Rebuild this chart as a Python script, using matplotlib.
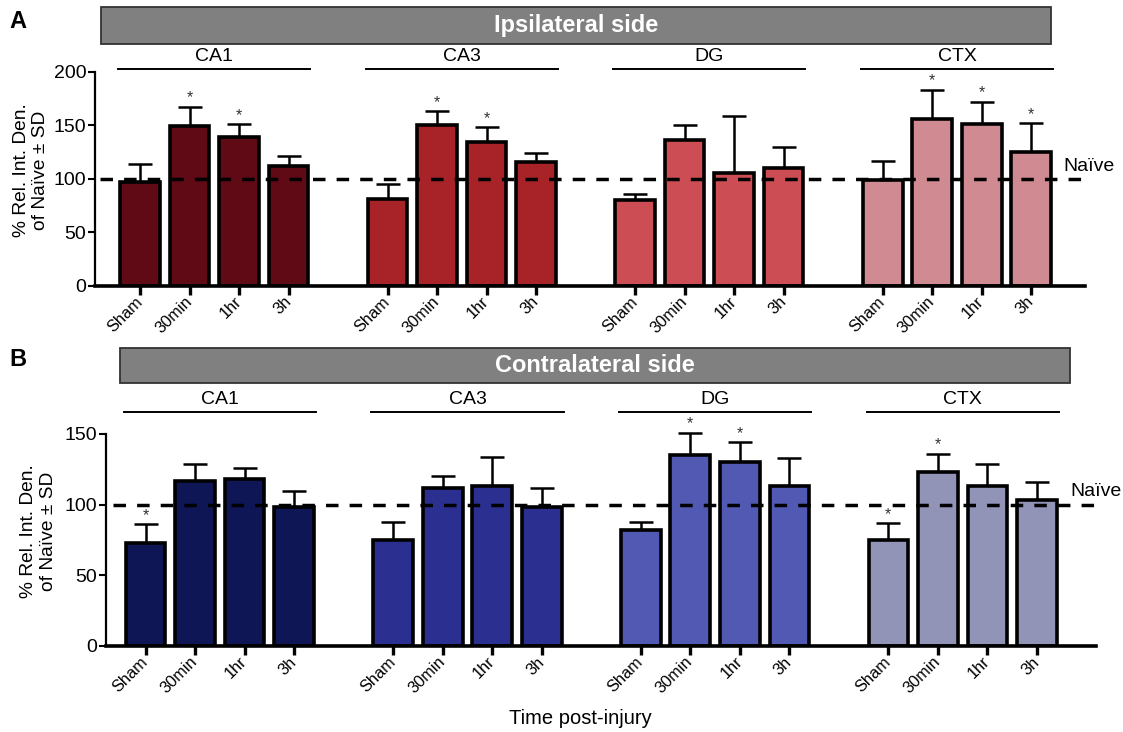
import numpy as np
import matplotlib.pyplot as plt
from matplotlib.patches import Rectangle
from matplotlib.transforms import blended_transform_factory

plt.rcParams['font.family'] = ['Liberation Sans', 'DejaVu Sans']

regions = ['CA1', 'CA3', 'DG', 'CTX']
times = ['Sham', '30min', '1hr', '3h']
naive = 100

# ipsilateral side: bar means, top of SD bar, significance
ipsi_mean = [[97, 149, 139, 112], [81, 150, 134, 116], [80, 136, 105, 110], [99, 156, 151, 125]]
ipsi_top = [[114, 167, 151, 121], [95, 163, 148, 124], [86, 150, 159, 130], [117, 183, 172, 152]]
ipsi_sig = [[0, 1, 1, 0], [0, 1, 1, 0], [0, 0, 0, 0], [0, 1, 1, 1]]
ipsi_colors = ['#5f0a15', '#a72328', '#cc4e54', '#d08b92']

# contralateral side
contra_mean = [[73, 117, 118, 98], [75, 112, 113, 98], [82, 135, 130, 113], [75, 123, 113, 103]]
contra_top = [[86, 129, 126, 110], [88, 120, 134, 112], [88, 151, 144, 133], [87, 136, 129, 116]]
contra_sig = [[1, 0, 0, 0], [0, 0, 0, 0], [0, 1, 1, 0], [1, 1, 0, 0]]
contra_colors = ['#0e1655', '#2b2f8f', '#5159b3', '#9193b7']

group_start = [0, 5, 10, 15]

W, H = 1123, 732
fig = plt.figure(figsize=(W / 100, H / 100), dpi=100)


def fbox(x0, y0, x1, y1):
    # pixel box -> figure fraction [left, bottom, width, height]
    return [x0 / W, 1 - y1 / H, (x1 - x0) / W, (y1 - y0) / H]


def panel(ax, means, tops, sig, colors, ymax, yticks, xlim, line_y, lab_y, dash_x, naive_x):
    xs_all = []
    for g, gs in enumerate(group_start):
        xs = [gs + i for i in range(4)]
        xs_all += xs
        m = np.array(means[g])
        t = np.array(tops[g])
        ax.bar(xs, m, width=0.8, color=colors[g], edgecolor='black', linewidth=2.6, zorder=2)
        eb = ax.errorbar(xs, m, yerr=[np.zeros(4), t - m], fmt='none', ecolor='black',
                         elinewidth=1.8, capsize=8.3, capthick=1.8, zorder=1)
        for art in eb.lines[1] + eb.lines[2]:
            art.set_clip_on(False)
        for i in range(4):
            if sig[g][i]:
                ax.annotate('*', (xs[i], t[i]), xytext=(0, 1), textcoords='offset points',
                            ha='center', va='bottom', fontsize=11.5, color='#333333',
                            annotation_clip=False)
        tr = blended_transform_factory(ax.transData, ax.transAxes)
        ax.plot([gs - 0.44, gs + 3.44], [line_y, line_y], color='black', lw=1.4,
                transform=tr, clip_on=False)
        ax.text(gs + 1.5, lab_y, regions[g], transform=tr, ha='center', va='center', fontsize=14)
    ax.plot(dash_x, [naive, naive], color='black', lw=2.5, dashes=(3.6, 3.2), zorder=3, clip_on=False)
    ax.annotate('Naïve', (naive_x, naive), xytext=(0, 3), textcoords='offset points',
                ha='left', va='bottom', fontsize=14, annotation_clip=False)
    ax.set_xlim(xlim)
    ax.set_ylim(0, ymax)
    ax.set_yticks(yticks)
    ax.tick_params(axis='y', labelsize=14, length=5.3, width=1.5, pad=1)
    ax.set_xticks(xs_all)
    ax.set_xticklabels(times * 4, rotation=45, ha='right', va='center', rotation_mode='anchor')
    ax.tick_params(axis='x', labelsize=11.8, length=6.7, width=2.4, pad=3)
    for s in ['top', 'right']:
        ax.spines[s].set_visible(False)
    ax.spines['left'].set_linewidth(1.6)
    ax.spines['bottom'].set_linewidth(2.6)


ax1 = fig.add_axes(fbox(95, 71.7, 1084.7, 285.7))
panel(ax1, ipsi_mean, ipsi_top, ipsi_sig, ipsi_colors, 200, [0, 50, 100, 150, 200],
      (-0.91, 19.08), 1.0126, 1.069, [-0.81, 19.06], 18.65)

ax2 = fig.add_axes(fbox(106, 434, 1096.3, 646))
panel(ax2, contra_mean, contra_top, contra_sig, contra_colors, 150, [0, 50, 100, 150],
      (-0.80, 19.2), 1.105, 1.165, [-0.66, 19.2], 18.68)

# gray banners
for (x0, y0, x1, y1), title in [((101, 7, 1051, 44), 'Ipsilateral side'),
                                ((120, 348.3, 1069.7, 383.3), 'Contralateral side')]:
    l, b, w, h = fbox(x0, y0, x1, y1)
    fig.add_artist(Rectangle((l, b), w, h, transform=fig.transFigure, facecolor='#808080',
                             edgecolor='#333333', linewidth=1.3))
    fig.text(l + w / 2, b + h / 2, title, ha='center', va='center', color='white',
             fontsize=17, fontweight='bold')

ylab = '% Rel. Int. Den.\nof Naïve ± SD'
fig.text(31 / W, 1 - 170 / H, ylab, rotation=90, ha='center', va='center', fontsize=13.8,
         multialignment='center')
fig.text(38.5 / W, 1 - 531 / H, ylab, rotation=90, ha='center', va='center', fontsize=13.8,
         multialignment='center')

fig.text(18 / W, 1 - 22 / H, 'A', ha='center', va='center', fontsize=17, fontweight='bold')
fig.text(18 / W, 1 - 360 / H, 'B', ha='center', va='center', fontsize=17, fontweight='bold')
fig.text(580 / W, 1 - 718 / H, 'Time post-injury', ha='center', va='center', fontsize=14.5)

fig.savefig('out.png', dpi=100)
